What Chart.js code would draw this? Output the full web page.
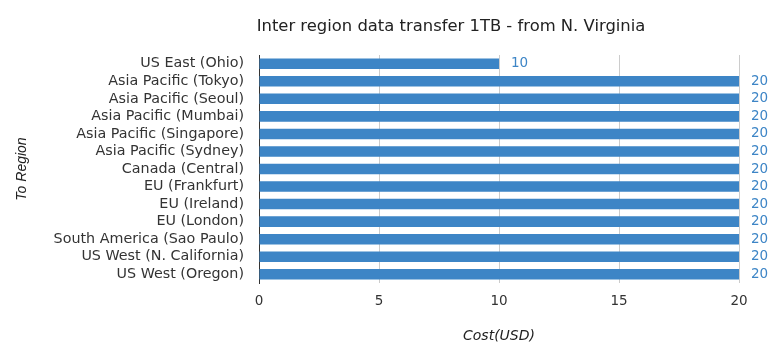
<!DOCTYPE html>
<html>
<head>
<meta charset="utf-8">
<script src="https://cdn.jsdelivr.net/npm/chart.js@4/dist/chart.umd.min.js"></script>
<style>
  html, body { margin: 0; padding: 0; background: #fff; }
  #wrap { width: 783px; height: 360px; }
</style>
</head>
<body>
<div id="wrap"><canvas id="chart" width="783" height="360"></canvas></div>
<script>
// data
var regions = [
  "US East (Ohio)",
  "Asia Pacific (Tokyo)",
  "Asia Pacific (Seoul)",
  "Asia Pacific (Mumbai)",
  "Asia Pacific (Singapore)",
  "Asia Pacific (Sydney)",
  "Canada (Central)",
  "EU (Frankfurt)",
  "EU (Ireland)",
  "EU (London)",
  "South America (Sao Paulo)",
  "US West (N. California)",
  "US West (Oregon)"
];
var costs = [10, 20, 20, 20, 20, 20, 20, 20, 20, 20, 20, 20, 20];
var xTicks = [0, 5, 10, 15, 20];

var titleText = "Inter region data transfer 1TB - from N. Virginia";
var barColor = "#3d85c6";
var font = "'DejaVu Sans', Verdana, sans-serif";

// title sits left of centre in the original, so draw it ourselves
var titlePlugin = {
  id: "topTitle",
  afterDraw: function (chart) {
    var ctx = chart.ctx;
    ctx.save();
    ctx.font = "16.4px " + font;
    ctx.fillStyle = "#222";
    ctx.textAlign = "center";
    ctx.textBaseline = "middle";
    ctx.fillText(titleText, 451, 27);
    ctx.restore();
  }
};

// value labels right of each bar
var valueLabels = {
  id: "valueLabels",
  afterDatasetsDraw: function (chart) {
    var ctx = chart.ctx;
    var meta = chart.getDatasetMeta(0);
    ctx.save();
    ctx.font = "13.5px " + font;
    ctx.fillStyle = barColor;
    ctx.textAlign = "left";
    ctx.textBaseline = "middle";
    meta.data.forEach(function (bar, i) {
      ctx.fillText(String(costs[i]), bar.x + 12, bar.y);
    });
    ctx.restore();
  }
};

var ctx = document.getElementById("chart").getContext("2d");
var chart = new Chart(ctx, {
  type: "bar",
  data: {
    labels: regions,
    datasets: [{
      label: "Cost",
      data: costs,
      backgroundColor: barColor,
      borderWidth: 0,
      categoryPercentage: 1.0,
      barPercentage: 0.6
    }]
  },
  options: {
    indexAxis: "y",
    responsive: false,
    animation: false,
    layout: { padding: { top: 55, right: 44, left: 0, bottom: 0 } },
    plugins: {
      legend: { display: false },
      tooltip: { enabled: false },
      title: { display: false }
    },
    scales: {
      x: {
        min: 0,
        max: 20,
        afterBuildTicks: function (scale) {
          scale.ticks = xTicks.map(function (v) { return { value: v }; });
        },
        afterFit: function (scale) { scale.height = 77; },
        grid: { color: "#cccccc", drawTicks: false, lineWidth: 1 },
        border: { display: false },
        ticks: { color: "#333", padding: 10, font: { family: font, size: 13.5 } },
        title: {
          display: true,
          text: "Cost(USD)",
          color: "#222",
          padding: { top: 0, bottom: 15 },
          font: { family: font, size: 14, style: "italic" }
        }
      },
      y: {
        afterFit: function (scale) { scale.width = 259; },
        grid: { display: false, drawTicks: false },
        border: { display: true, color: "#333", width: 1 },
        ticks: {
          color: "#333",
          padding: 15,
          autoSkip: false,
          font: { family: font, size: 14.3 }
        },
        title: {
          display: true,
          text: "To Region",
          color: "#222",
          padding: { top: 14, bottom: 0 },
          font: { family: "'Liberation Sans', Arial, sans-serif", size: 14, style: "italic" }
        }
      }
    }
  },
  plugins: [titlePlugin, valueLabels]
});
</script>
</body>
</html>
